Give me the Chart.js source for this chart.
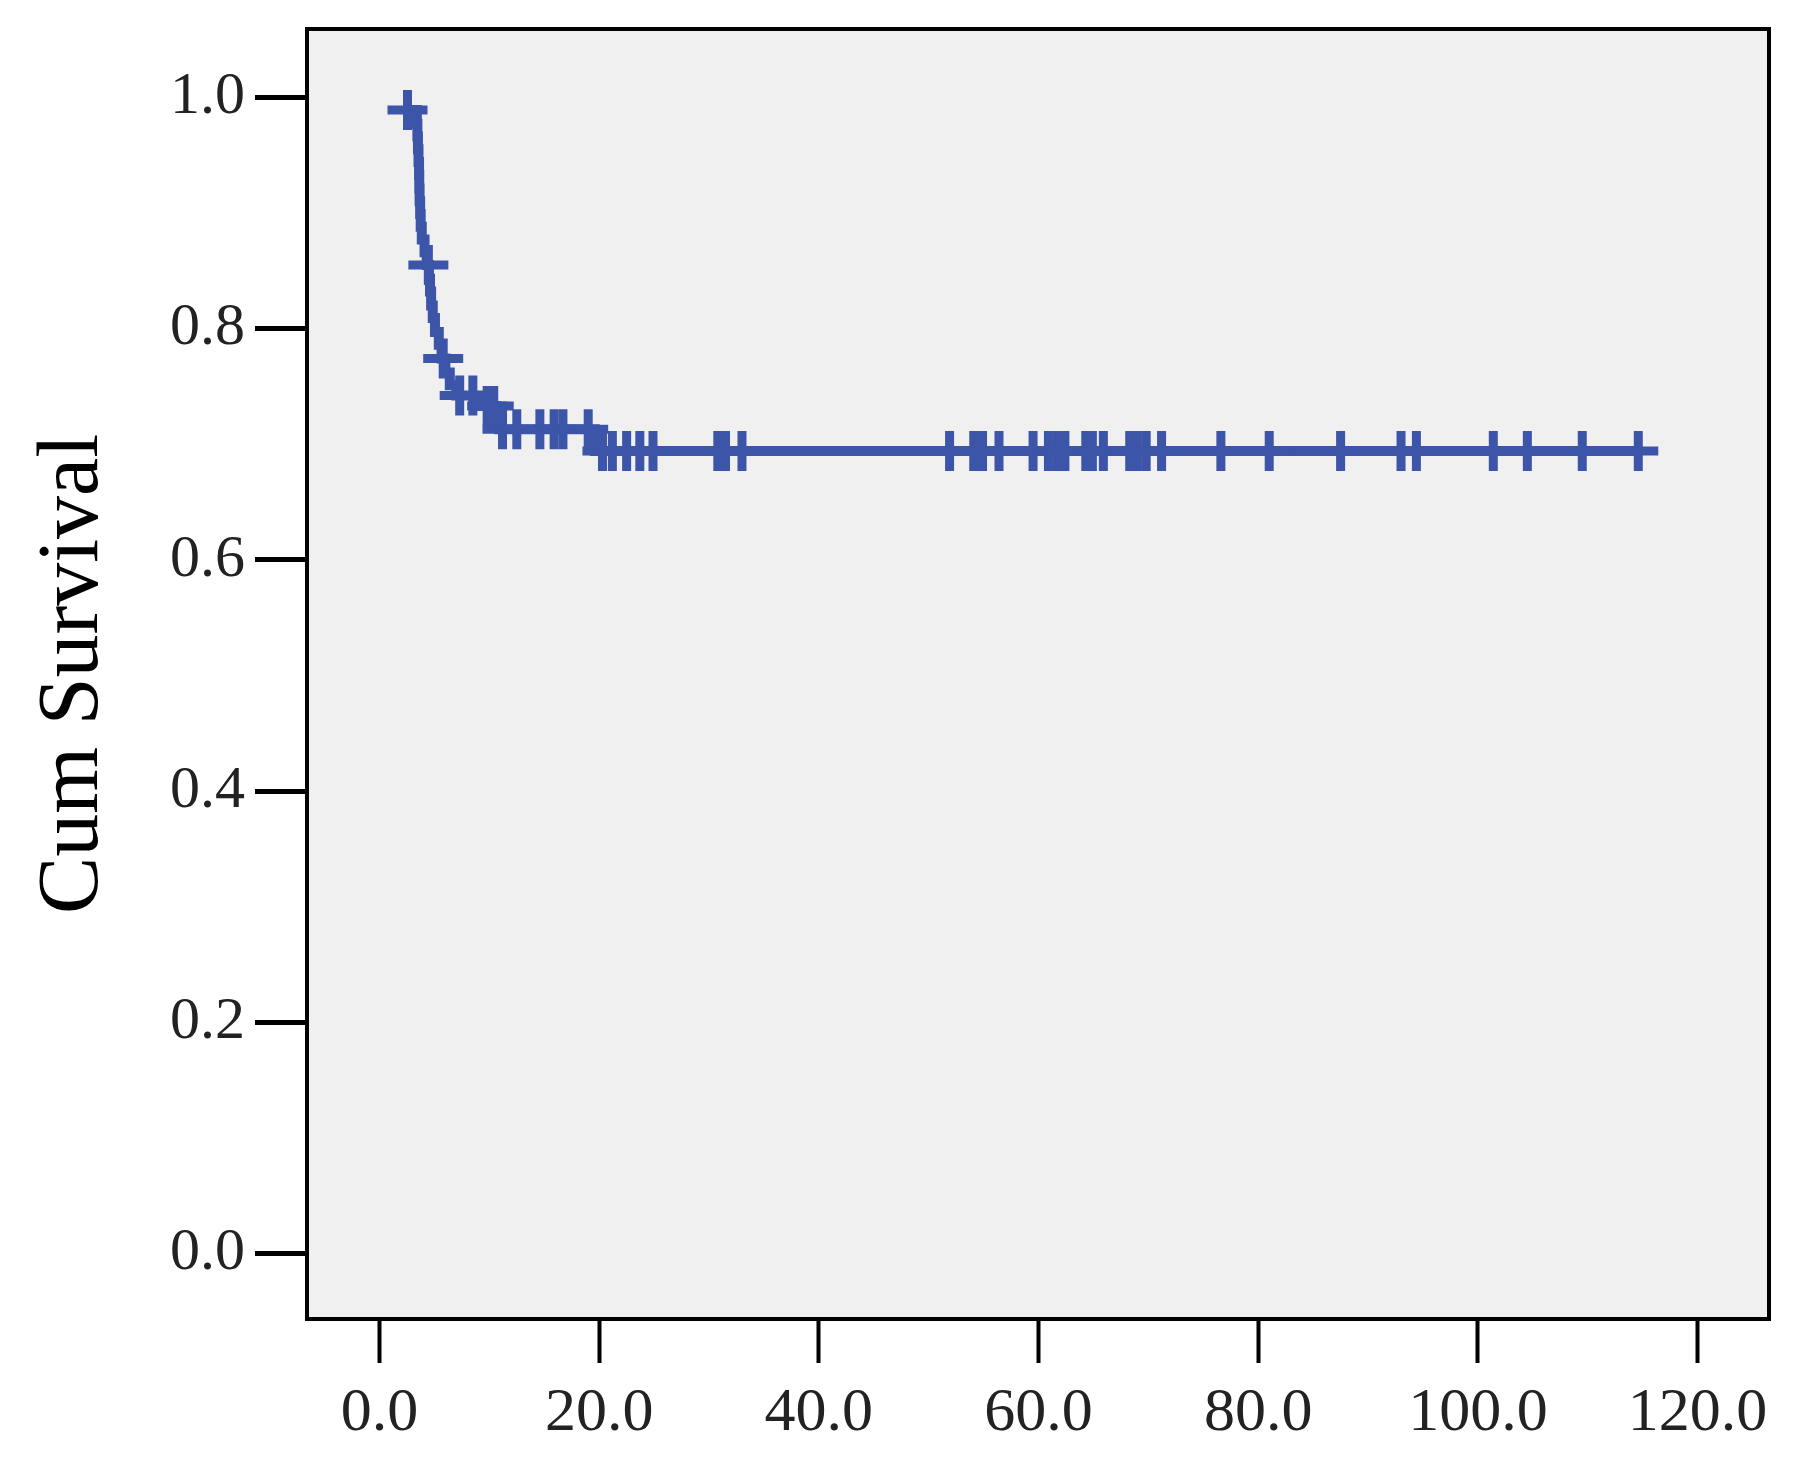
<!DOCTYPE html>
<html lang="en">
<head>
  <meta charset="UTF-8" />
  <title>Cum Survival</title>
  <script src="https://cdn.jsdelivr.net/npm/chart.js"></script>
  <style>
    html, body { margin: 0; padding: 0; background: #ffffff; }
    #wrap { width: 1803px; height: 1464px; position: relative; }
  </style>
</head>
<body>
  <div id="wrap"><canvas id="grafico"></canvas></div>

  <script>
    // step points of the curve (time, cumulative survival after the drop)
    var eventTimes = [2.55, 3.40, 3.45, 3.50, 3.55, 3.60, 3.62, 3.65, 3.70, 3.75, 3.85, 4.10, 4.30,
      4.50, 4.60, 4.70, 4.85, 5.05, 5.40, 5.65, 6.00, 6.40, 7.00, 9.20, 10.6, 10.9, 19.6, 114.6];
    var survival = [0.989, 0.977, 0.966, 0.955, 0.944, 0.933, 0.921, 0.910, 0.899, 0.888, 0.877, 0.866, 0.855,
      0.843, 0.832, 0.820, 0.809, 0.797, 0.786, 0.774, 0.762, 0.751, 0.742, 0.733, 0.723, 0.713, 0.694, 0.694];

    // censored cases
    var censorTimes = [2.55, 4.45, 5.8, 7.3, 8.5, 9.8, 10.4, 11.2, 12.5, 14.6, 15.9, 16.7, 19.0,
      20.3, 21.2, 22.5, 23.7, 24.9, 30.8, 31.5, 33.0, 51.9, 54.1, 54.9, 56.4, 59.5, 60.9, 61.7, 62.4,
      64.3, 64.9, 65.9, 68.3, 69.0, 69.8, 71.2, 76.6, 81.0, 87.5, 93.0, 94.4, 101.4, 104.5, 109.5, 114.6];
    var censorSurv = [0.989, 0.855, 0.774, 0.742, 0.742, 0.733, 0.733, 0.713, 0.713, 0.713, 0.713, 0.713, 0.713,
      0.694, 0.694, 0.694, 0.694, 0.694, 0.694, 0.694, 0.694, 0.694, 0.694, 0.694, 0.694, 0.694, 0.694, 0.694, 0.694,
      0.694, 0.694, 0.694, 0.694, 0.694, 0.694, 0.694, 0.694, 0.694, 0.694, 0.694, 0.694, 0.694, 0.694, 0.694, 0.694];

    var xTicks = [0, 20, 40, 60, 80, 100, 120];
    var yTicks = [0.0, 0.2, 0.4, 0.6, 0.8, 1.0];

    var azul = "#3d55a9";

    var curva = [];
    for (var i = 0; i < eventTimes.length; i++) {
      curva.push({ x: eventTimes[i], y: survival[i] });
    }
    var censurados = [];
    for (var j = 0; j < censorTimes.length; j++) {
      censurados.push({ x: censorTimes[j], y: censorSurv[j] });
    }

    // grey plot background and black frame
    var moldura = {
      id: "moldura",
      beforeDatasetsDraw: function (chart) {
        var a = chart.chartArea;
        var ctx = chart.ctx;
        ctx.save();
        ctx.fillStyle = "#f0f0f0";
        ctx.fillRect(a.left, a.top, a.right - a.left, a.bottom - a.top);
        ctx.restore();
      },
      afterDraw: function (chart) {
        var a = chart.chartArea;
        var ctx = chart.ctx;
        ctx.save();
        ctx.strokeStyle = "#000000";
        ctx.lineWidth = 4;
        ctx.strokeRect(a.left, a.top, a.right - a.left, a.bottom - a.top);
        ctx.restore();
      }
    };

    new Chart(document.getElementById("grafico"), {
      type: "line",
      data: {
        datasets: [
          {
            label: "Survival",
            data: curva,
            stepped: true,
            borderColor: azul,
            borderWidth: 10,
            pointRadius: 0,
            fill: false,
            order: 2
          },
          {
            label: "Censored",
            data: censurados,
            showLine: false,
            pointStyle: "cross",
            pointRadius: 20,
            pointBorderWidth: 9,
            pointBorderColor: azul,
            pointBackgroundColor: azul,
            order: 1
          }
        ]
      },
      options: {
        responsive: true,
        maintainAspectRatio: false,
        animation: false,
        events: [],
        layout: { padding: { left: 0, top: 25, right: 34, bottom: 0 } },
        plugins: {
          legend: { display: false },
          tooltip: { enabled: false }
        },
        scales: {
          x: {
            type: "linear",
            min: -6.6,
            max: 126.5,
            afterBuildTicks: function (scale) {
              scale.ticks = xTicks.map(function (v) { return { value: v }; });
            },
            afterFit: function (scale) {
              scale.height = 145;
              scale.paddingLeft = 0;
              scale.paddingRight = 0;
            },
            border: { display: false },
            grid: {
              drawOnChartArea: false,
              drawTicks: true,
              tickLength: 44,
              tickWidth: 4,
              tickColor: "#000000"
            },
            ticks: {
              padding: 14,
              color: "#222222",
              maxRotation: 0,
              autoSkip: false,
              font: { family: "Liberation Serif", size: 62 },
              callback: function (v) { return Number(v).toFixed(1); }
            }
          },
          y: {
            type: "linear",
            min: -0.0565,
            max: 1.059,
            afterBuildTicks: function (scale) {
              scale.ticks = yTicks.map(function (v) { return { value: v }; });
            },
            afterFit: function (scale) {
              scale.width = 307;
              scale.paddingTop = 0;
              scale.paddingBottom = 0;
            },
            border: { display: false },
            grid: {
              drawOnChartArea: false,
              drawTicks: true,
              tickLength: 52,
              tickWidth: 5,
              tickColor: "#000000"
            },
            ticks: {
              padding: 10,
              color: "#222222",
              autoSkip: false,
              font: { family: "Liberation Serif", size: 60 },
              callback: function (v) { return Number(v).toFixed(1); }
            },
            title: {
              display: true,
              text: "Cum Survival",
              color: "#000000",
              padding: { top: 23, bottom: 0 },
              font: { family: "Liberation Serif", size: 86 }
            }
          }
        }
      },
      plugins: [moldura]
    });
  </script>
</body>
</html>
